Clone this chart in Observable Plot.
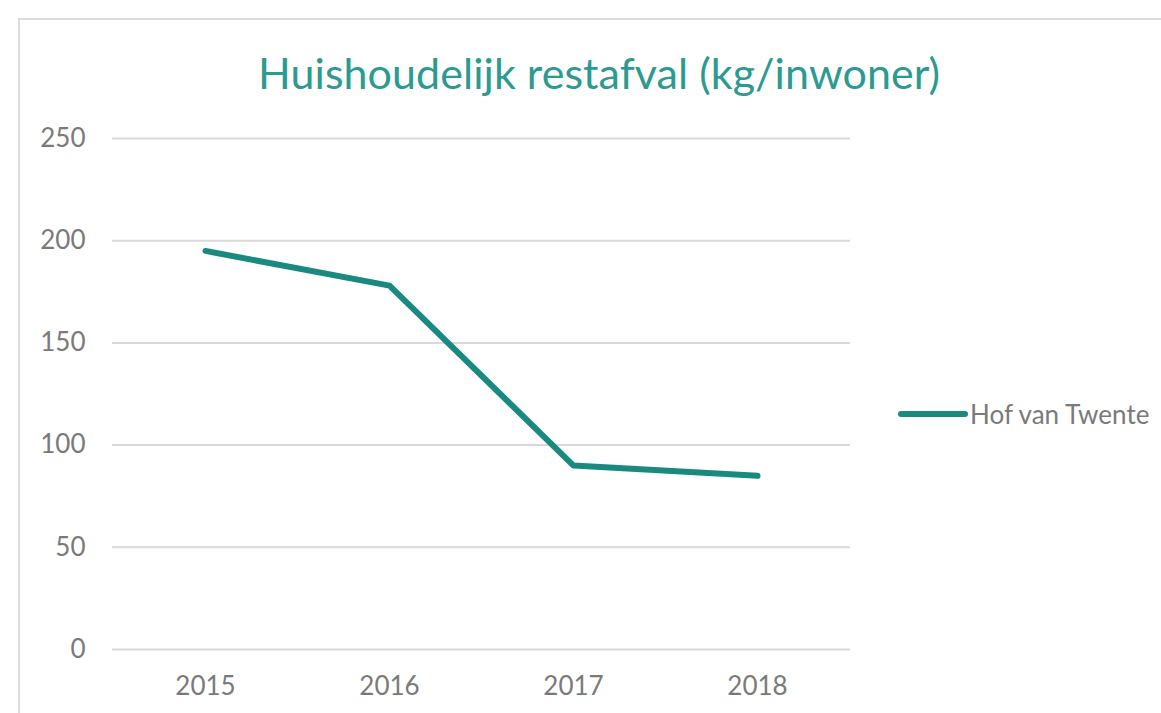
<!DOCTYPE html>
<html>
<head>
<meta charset="utf-8">
<script src="https://cdn.jsdelivr.net/npm/d3@7"></script>
<script src="https://cdn.jsdelivr.net/npm/@observablehq/plot@0.6"></script>
<style>
  html, body { margin: 0; padding: 0; background: #fff; }
  #wrap { position: relative; width: 1161px; height: 713px; overflow: hidden; font-family: Lato, "Open Sans", sans-serif; }
  #frame { position: absolute; left: 18px; top: 18px; width: 1200px; height: 760px; border: 2px solid #dcdcdc; box-sizing: border-box; }
  #title { position: absolute; left: 258px; top: 48px; font-size: 43px; line-height: 50px; color: #2b9a91; white-space: nowrap; }
  #chart { position: absolute; left: 0; top: 0; }
  #legend { position: absolute; left: 898px; top: 398px; display: flex; align-items: center; font-size: 26px; line-height: 32px; color: #7a7a7a; white-space: nowrap; }
  #legend .sw { width: 70px; height: 6px; border-radius: 3px; background: #1a8a80; margin-right: 2px; }
</style>
</head>
<body>
<div id="wrap">
  <div id="frame"></div>
  <div id="chart"></div>
  <div id="title"></div>
  <div id="legend"><span class="sw"></span><span id="legendLabel"></span></div>
</div>
<script>
const titleText = "Huishoudelijk restafval (kg/inwoner)";
const seriesName = "Hof van Twente";
const years = ["2015", "2016", "2017", "2018"];
const values = [195, 178, 90, 85];
const yTicks = [0, 50, 100, 150, 200, 250];

const data = years.map((y, i) => ({year: y, value: values[i]}));

const titleEl = document.getElementById("title");
titleEl.textContent = titleText;
// fit title to the reference width (~682px)
const w = titleEl.getBoundingClientRect().width;
titleEl.style.letterSpacing = ((682 - w) / (titleText.length - 1)) + "px";
document.getElementById("legendLabel").textContent = seriesName;

const chart = Plot.plot({
  width: 1161,
  height: 713,
  marginLeft: 112,
  marginRight: 311,
  marginTop: 138,
  marginBottom: 64,
  style: {fontFamily: "Lato, 'Open Sans', sans-serif", fontSize: "26px", color: "#7a7a7a", background: "transparent"},
  x: {type: "point", domain: years, padding: 0.5, label: null, tickSize: 0, tickPadding: 27},
  y: {domain: [0, 250], ticks: yTicks, label: null, tickSize: 0, tickPadding: 27},
  marks: [
    Plot.ruleY(yTicks, {stroke: "#d9d9d9", strokeWidth: 2}),
    Plot.line(data, {x: "year", y: "value", stroke: "#1a8a80", strokeWidth: 6, strokeLinecap: "round", strokeLinejoin: "round"})
  ]
});
document.getElementById("chart").appendChild(chart);
</script>
</body>
</html>
